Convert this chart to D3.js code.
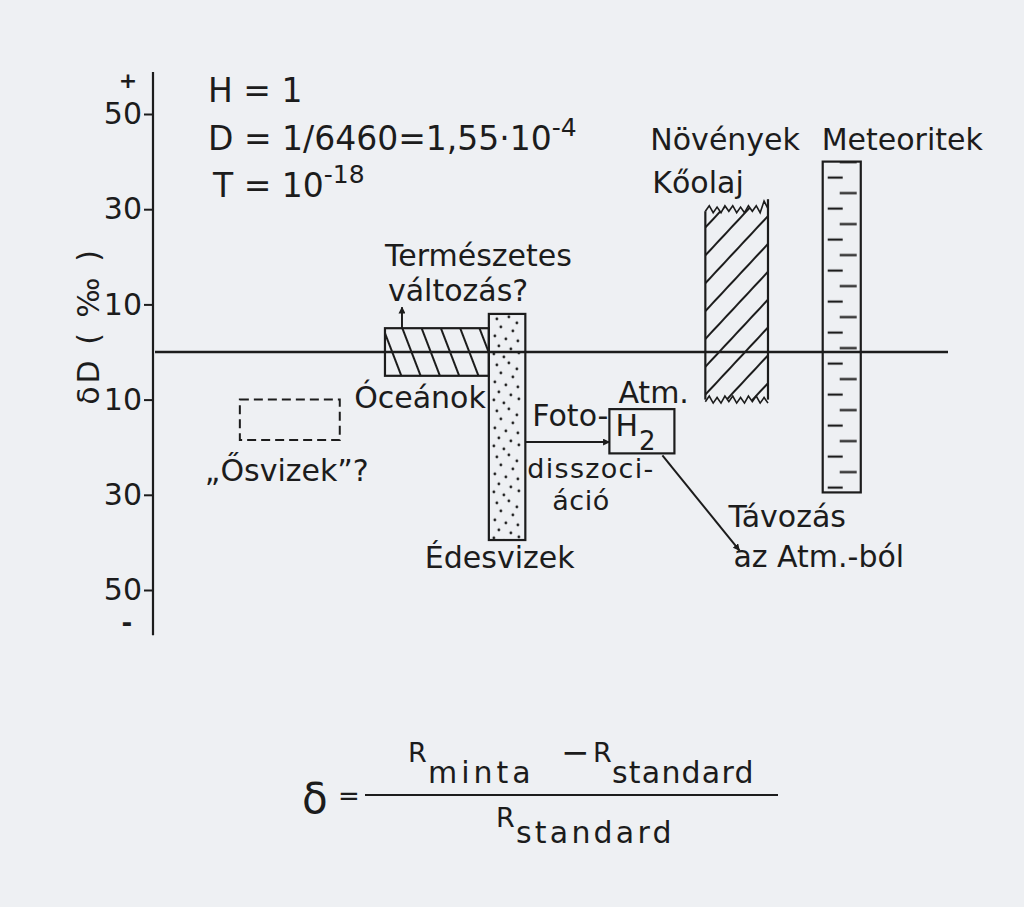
<!DOCTYPE html>
<html>
<head>
<meta charset="utf-8">
<script src="https://cdn.jsdelivr.net/npm/d3@7"></script>
<style>
  html, body { margin: 0; padding: 0; background: #eef0f3; }
  svg { display: block; }
  text { font-family: "DejaVu Sans", sans-serif; fill: #1c1c1c; }
</style>
</head>
<body>
<div id="chart"></div>
<script>

// Données (δD en ‰)
const tickValues = [50, 30, 10, -10, -30, -50];
const tickLabels = ["50", "30", "10", "10", "30", "50"];

// les "réservoirs" : nom, bornes de δD, position horizontale (unités 0-100)
const zones = ["Ősvizek", "Óceánok", "Édesvizek", "Atm. H2", "Növények Kőolaj", "Meteoritek"];
const zoneTop = [-10, 5, 8, -12, 30, 40];
const zoneBottom = [-18.5, -5, -39.5, -21.3, -10, -29.5];
const zoneLeft = [10.7, 29.0, 42.1, 57.3, 69.4, 84.2];
const zoneRight = [23.3, 42.1, 46.7, 65.5, 77.3, 89.0];

const constants = ["H = 1", "D = 1/6460=1,55·10", "T = 10"];
const exponents = ["", "-4", "-18"];

//---------------------------------------------------------------------------------------

const width = 1024;
const height = 907;
const ink = "#1c1c1c";

const svg = d3.select("#chart")
    .append("svg")
    .attr("width", width)
    .attr("height", height);

svg.append("rect")
    .attr("width", width)
    .attr("height", height)
    .attr("fill", "#eef0f3");

// échelles
const y = d3.scaleLinear()
    .domain([-50, 50])
    .range([590, 114]);

const x = d3.scaleLinear()
    .domain([0, 100])
    .range([155, 948]);

//---------------------------------------------------------------------------------------

// motifs de remplissage
const defs = svg.append("defs");

// hachures "\" des océans
defs.append("pattern")
    .attr("id", "hatchBack")
    .attr("patternUnits", "userSpaceOnUse")
    .attr("width", 18).attr("height", 18)
    .attr("patternTransform", "rotate(-21)")
    .append("line")
    .attr("x1", 6).attr("x2", 6).attr("y1", 0).attr("y2", 18)
    .attr("stroke", ink).attr("stroke-width", 2);

// hachures "/" des plantes
defs.append("pattern")
    .attr("id", "hatchFwd")
    .attr("patternUnits", "userSpaceOnUse")
    .attr("width", 19).attr("height", 19)
    .attr("patternTransform", "rotate(43)")
    .append("line")
    .attr("x1", 6).attr("x2", 6).attr("y1", 0).attr("y2", 19)
    .attr("stroke", ink).attr("stroke-width", 2);

// pointillé des eaux douces (texture)
const dots = defs.append("pattern")
    .attr("id", "dots")
    .attr("patternUnits", "userSpaceOnUse")
    .attr("x", x(zoneLeft[2])).attr("y", y(zoneTop[2]))
    .attr("width", 36).attr("height", 46);
const dotSpots = [[8, 5], [20, 3], [28, 9], [12, 13], [24, 17], [6, 22], [17, 25], [29, 27],
                  [10, 32], [22, 35], [5, 40], [15, 43], [30, 39]];
dots.selectAll("circle")
    .data(dotSpots)
    .join("circle")
    .attr("cx", d => d[0]).attr("cy", d => d[1])
    .attr("r", 1.4)
    .attr("fill", ink);

// petits traits alternés des météorites
const dashes = defs.append("pattern")
    .attr("id", "dashes")
    .attr("patternUnits", "userSpaceOnUse")
    .attr("x", x(zoneLeft[5])).attr("y", y(zoneTop[5]) + 8)
    .attr("width", 40).attr("height", 31);
dashes.append("line")
    .attr("x1", 5).attr("x2", 20).attr("y1", 8).attr("y2", 8)
    .attr("stroke", ink).attr("stroke-width", 2.2);
dashes.append("line")
    .attr("x1", 17).attr("x2", 34).attr("y1", 23.5).attr("y2", 23.5)
    .attr("stroke", ink).attr("stroke-width", 2.2);

defs.append("marker")
    .attr("id", "arrow")
    .attr("viewBox", "0 0 10 10")
    .attr("refX", 9).attr("refY", 5)
    .attr("markerWidth", 7).attr("markerHeight", 7)
    .attr("markerUnits", "userSpaceOnUse")
    .attr("orient", "auto")
    .append("path")
    .attr("d", "M0,0 L10,5 L0,10 Z")
    .attr("fill", ink);

//---------------------------------------------------------------------------------------

// Axe vertical
svg.append("line")
    .attr("x1", 153).attr("x2", 153)
    .attr("y1", y(58.8)).attr("y2", y(-59.5))
    .attr("stroke", ink).attr("stroke-width", 2.2);

const yAxis = g => g
    .attr("transform", "translate(153,0)")
    .call(d3.axisLeft(y)
        .tickValues(tickValues)
        .tickFormat((d, i) => tickLabels[i])
        .tickSize(9)
        .tickPadding(2))
    .call(g => g.select(".domain").remove())
    .call(g => g.selectAll(".tick line").attr("stroke", ink).attr("stroke-width", 2))
    .call(g => g.selectAll(".tick text")
        .attr("font-family", "DejaVu Sans")
        .attr("font-size", 30)
        .attr("fill", ink));

svg.append("g").call(yAxis);

svg.append("text")
    .attr("x", 128).attr("y", 88)
    .attr("text-anchor", "middle")
    .attr("font-size", 22)
    .attr("font-weight", "bold")
    .text("+");
svg.append("text")
    .attr("x", 127).attr("y", 632)
    .attr("text-anchor", "middle")
    .attr("font-size", 26)
    .attr("font-weight", "bold")
    .text("-");

svg.append("text")
    .attr("transform", `translate(99, 326) rotate(-90)`)
    .attr("text-anchor", "middle")
    .attr("font-size", 30)
    .attr("letter-spacing", 3)
    .text("δD ( ‰ )");

// ligne du zéro
svg.append("line")
    .attr("x1", 155).attr("x2", 948)
    .attr("y1", y(0)).attr("y2", y(0))
    .attr("stroke", ink).attr("stroke-width", 2.4);

//---------------------------------------------------------------------------------------

// constantes en haut à gauche
const cst = svg.selectAll(".cst")
    .data(constants)
    .join("text")
    .attr("class", "cst")
    .attr("x", (d, i) => i === 2 ? 213 : 208)
    .attr("y", (d, i) => 102 + i * 47.5)
    .attr("font-size", 33);
cst.append("tspan").text(d => d);
cst.append("tspan")
    .attr("dy", -14)
    .attr("font-size", 25)
    .text((d, i) => exponents[i]);

//---------------------------------------------------------------------------------------

// boîtes
const box = i => ({
    x0: x(zoneLeft[i]), x1: x(zoneRight[i]),
    y0: y(zoneTop[i]), y1: y(zoneBottom[i])
});

// Ősvizek : tirets
svg.append("rect")
    .attr("x", box(0).x0).attr("y", box(0).y0)
    .attr("width", box(0).x1 - box(0).x0).attr("height", box(0).y1 - box(0).y0)
    .attr("fill", "none")
    .attr("stroke", ink).attr("stroke-width", 2)
    .attr("stroke-dasharray", "9,5");

// Óceánok, Édesvizek, H2, Meteoritek
const fills = { 1: "url(#hatchBack)", 2: "url(#dots)", 3: "none", 5: "url(#dashes)" };
[1, 2, 3, 5].forEach(i => {
    const b = box(i);
    svg.append("rect")
        .attr("x", b.x0).attr("y", b.y0)
        .attr("width", b.x1 - b.x0).attr("height", b.y1 - b.y0)
        .attr("fill", fills[i])
        .attr("stroke", ink).attr("stroke-width", 2.2);
});

// Növények / Kőolaj : bords haut et bas déchirés
const bp = box(4);
const zig = (x0, x1, yy, amp) => d3.range(x0, x1 + 0.1, (x1 - x0) / 16)
    .map((xx, k) => [xx, yy + (k % 2 ? -amp : amp) * (k % 3 === 0 ? 0.6 : 1)]);
const topEdge = zig(bp.x0, bp.x1, bp.y0, 3.5);
topEdge[topEdge.length - 2][1] -= 6;
topEdge[topEdge.length - 1][1] -= 4;
const bottomEdge = zig(bp.x0, bp.x1, bp.y1, 3.5).reverse();
const plantPath = d3.line()([...topEdge, ...bottomEdge]) + "Z";
svg.append("path")
    .attr("d", plantPath)
    .attr("fill", "url(#hatchFwd)")
    .attr("stroke", "none");
svg.append("path")
    .attr("d", d3.line()(topEdge))
    .attr("fill", "none").attr("stroke", ink).attr("stroke-width", 1.6);
svg.append("path")
    .attr("d", d3.line()(bottomEdge))
    .attr("fill", "none").attr("stroke", ink).attr("stroke-width", 1.6);
[bp.x0, bp.x1].forEach((xx, k) => {
    svg.append("line")
        .attr("x1", xx).attr("x2", xx)
        .attr("y1", k ? bp.y0 - 10 : bp.y0 + 2).attr("y2", bp.y1)
        .attr("stroke", ink).attr("stroke-width", 2.2);
});

//---------------------------------------------------------------------------------------

// flèches
const bo = box(1), be = box(2), bh = box(3);
const arrow = (x1, y1, x2, y2) => svg.append("line")
    .attr("x1", x1).attr("y1", y1).attr("x2", x2).attr("y2", y2)
    .attr("stroke", ink).attr("stroke-width", 2)
    .attr("marker-end", "url(#arrow)");

arrow(bo.x0 + 17, bo.y0, bo.x0 + 17, bo.y0 - 21);
arrow(be.x1, bh.y0 + 33, bh.x0, bh.y0 + 33);
arrow(bh.x0 + 53, bh.y1 + 2, bh.x0 + 130, bh.y1 + 97);

//---------------------------------------------------------------------------------------

// étiquettes
const label = (txt, xx, yy, anchor, size, spacing) => svg.append("text")
    .attr("x", xx).attr("y", yy)
    .attr("text-anchor", anchor || "start")
    .attr("font-size", size || 30)
    .attr("letter-spacing", spacing || 0)
    .text(txt);

const bv = box(0), bn = box(4), bm = box(5);
label("„Ősvizek”?", bv.x0 - 35, bv.y1 + 41);
label("Óceánok", bo.x1 - 3, bo.y1 + 32, "end");
label("Természetes", bo.x0, bo.y0 - 62);
label("változás?", bo.x0 + 3, bo.y0 - 27);
label("Édesvizek", be.x0 - 64, be.y1 + 28);
label("Atm.", bh.x0 + 9, bh.y0 - 6);
label("Foto-", be.x1 + 7, bh.y0 + 17);
label("disszoci-", be.x1 + 2, bh.y0 + 69, "start", 27, 1.3);
label("áció", be.x1 + 27, bh.y0 + 101, "start", 27, 0.5);
label("Növények", bn.x0 - 55, 150);
label("Kőolaj", bn.x0 - 53, 193);
label("Meteoritek", bm.x0 - 1, 150);
label("Távozás", bh.x0 + 119, bh.y1 + 74);
label("az  Atm.-ból", bh.x0 + 124, bh.y1 + 114);

const h2 = svg.append("text")
    .attr("x", bh.x0 + 6).attr("y", bh.y0 + 27)
    .attr("font-size", 30);
h2.append("tspan").text("H");
h2.append("tspan").attr("dy", 14).attr("dx", 1).attr("font-size", 26).text("2");

//---------------------------------------------------------------------------------------

// définition de δ
const ftext = (txt, xx, yy, size, spacing) => svg.append("text")
    .attr("x", xx).attr("y", yy)
    .attr("font-size", size)
    .attr("letter-spacing", spacing || 0)
    .text(txt);

ftext("δ", 302, 813, 42);
ftext("=", 338, 805, 26);
svg.append("line")
    .attr("x1", 365).attr("x2", 778)
    .attr("y1", 795).attr("y2", 795)
    .attr("stroke", ink).attr("stroke-width", 2);
ftext("R", 408, 762, 27);
ftext("minta", 428, 783, 30, 4);
ftext("−", 561, 764, 34);
ftext("R", 593, 762, 27);
ftext("standard", 612, 783, 30, 1.2);
ftext("R", 496, 827, 27);
ftext("standard", 516, 843, 30, 3.2);

</script>
</body>
</html>
